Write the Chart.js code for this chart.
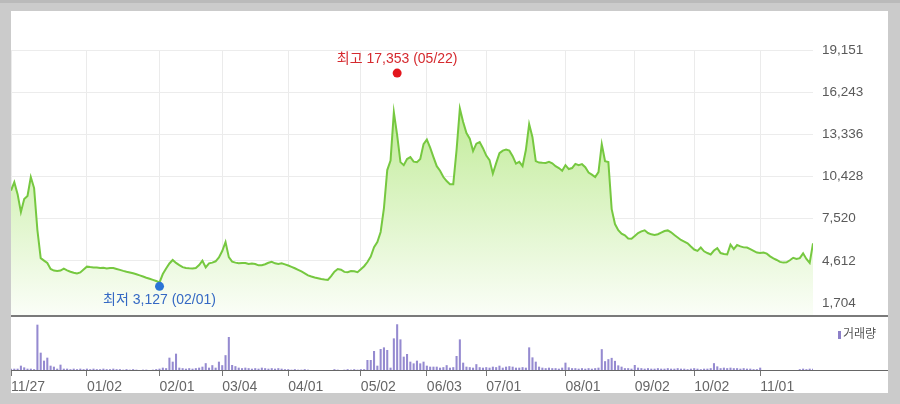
<!DOCTYPE html>
<html>
<head>
<meta charset="utf-8">
<script src="https://cdn.jsdelivr.net/npm/chart.js@4.4.1/dist/chart.umd.min.js"></script>
<style>
  html, body { margin: 0; padding: 0; width: 900px; height: 404px; overflow: hidden; background: #cbcbcb; }
  #topbar { position: absolute; left: 0; top: 0; width: 900px; height: 3px; background: #bababa; }
  #panel { position: absolute; left: 11px; top: 11px; width: 877px; height: 382px; background: #fff; }
  canvas { position: absolute; left: 0; top: 0; }
  .rule { position: absolute; left: 11px; width: 877px; }
  #legend { position: absolute; left: 838px; top: 324px; font: 12px 'Noto Sans CJK KR', sans-serif; color: #555; }
  #legend i { display: inline-block; width: 3px; height: 8px; background: #8d80c8; margin-right: 2px; vertical-align: -1px; }
</style>
</head>
<body>
<div id="topbar"></div>
<div id="panel"></div>
<canvas id="priceChart" width="900" height="404"></canvas>
<canvas id="volChart" width="900" height="404"></canvas>
<div class="rule" style="top:315px;height:2px;background:#7a7a7a"></div>
<div class="rule" style="top:370px;height:1px;background:#666"></div>
<div id="legend"><i></i>거래량</div>
<script>
// daily closes (원), one per trading day from 11/27
const priceClose = [
  9460, 10040, 9210, 7970, 8870, 9080, 10390, 9630, 6730, 4800,
  4630, 4460, 4050, 3940, 3910, 3940, 4070, 3960, 3860, 3790,
  3740, 3810, 4010, 4210, 4180, 4160, 4150, 4120, 4130, 4080,
  4120, 4110, 4050, 3990, 3920, 3860, 3810, 3750, 3690, 3610,
  3530, 3450, 3380, 3300, 3220, 3127, 3700, 4080, 4430, 4670,
  4470, 4320, 4180, 4120, 4100, 4090, 4120, 4320, 4620, 4160,
  4440, 4490, 4580, 4840, 5290, 5910, 4870, 4560, 4490, 4440,
  4470, 4460, 4390, 4430, 4390, 4300, 4310, 4380, 4480, 4550,
  4440, 4400, 4440, 4370, 4290, 4200, 4100, 3990, 3880, 3750,
  3610, 3530, 3460, 3410, 3360, 3320, 3300, 3560, 3870, 4050,
  4000, 3850, 3830, 3910, 3890, 3830, 4030, 4240, 4530, 4910,
  5560, 5910, 6600, 8250, 10870, 11520, 14860, 13280, 11420, 11210,
  11630, 11760, 11450, 11420, 11630, 12660, 12970, 12420, 11760, 11140,
  10830, 10390, 10110, 9900, 9900, 12250, 15110, 14180, 13420, 13040,
  12180, 12690, 12800, 12380, 11870, 11560, 10630, 11350, 12040, 12210,
  12280, 12210, 11830, 11320, 11440, 11140, 12250, 14040, 13140, 11490,
  11390, 11370, 11360, 11440, 11340, 11140, 11010, 10830, 11210, 10940,
  11010, 11300, 11210, 11280, 11070, 10700, 10560, 10390, 10730, 12660,
  11490, 11420, 8180, 7150, 6730, 6490, 6370, 6150, 6130, 6330,
  6530, 6640, 6720, 6530, 6440, 6400, 6450, 6560, 6670, 6710,
  6580, 6390, 6220, 6050, 5940, 5820, 5600, 5390, 5300, 5530,
  5270, 5150, 5050, 5320, 5490, 5150, 5080, 5050, 5730, 5420,
  5700, 5610, 5540, 5530, 5420, 5300, 5180, 5150, 5190, 5110,
  4920, 4780, 4670, 4540, 4490, 4510, 4650, 4820, 4740, 4800,
  5130, 4740, 4470, 5820
];

// volume, thousand shares
const volume = [
  2, 2, 2, 5, 3.3, 2, 2, 1.5, 46, 18,
  10, 13, 5, 4, 2, 6, 2, 2, 1.5, 2,
  1.5, 2, 1.5, 2, 1.5, 2, 1.5, 1.5, 2, 1.5,
  1.5, 2, 1.5, 1.5, 1, 1.5, 1, 1.5, 1, 0,
  1, 1, 0, 1, 1.5, 2, 3, 2.5, 13, 9,
  17, 3, 2.5, 2, 2.5, 2, 2.5, 3, 4, 7.5,
  3, 5.5, 3, 9, 5.5, 15.5, 33.7, 5.7, 4.5, 3,
  2.5, 3, 2.5, 2, 2.5, 2, 3, 2.5, 2, 2.5,
  2, 2.5, 2, 1.5, 1.5, 1, 1.5, 1, 1, 1.5,
  1, 0, 0, 0, 0.5, 0, 0, 0.5, 1.5, 1,
  0, 1, 1.5, 1, 1.5, 1, 1.5, 1.5, 10.7, 10.7,
  19.7, 5, 21.7, 23.3, 20.7, 3, 32.3, 46.4, 31.3, 14,
  16.7, 9, 7.3, 10, 7.3, 9, 5, 4, 4, 4,
  3, 3.5, 5.5, 3, 3.5, 14.7, 31.3, 8, 4, 3.5,
  3, 6.5, 3.5, 3, 3.5, 3, 4, 3.5, 5, 3,
  4, 4.5, 4, 3, 3, 3.5, 3, 23.3, 13.3, 9,
  4, 3, 2.5, 3, 2.5, 2.5, 2, 3, 8, 3.3,
  2.5, 2.5, 2, 2.5, 2, 2.5, 2, 2.5, 3, 21.5,
  9.5, 11.5, 12.8, 9.8, 5.3, 4, 2.5, 2.5, 2, 5.7,
  3, 2.5, 2, 2.5, 2, 2, 2.5, 2, 2, 2.5,
  2, 2, 2.5, 2, 2, 1.5, 2, 2.5, 2, 1.5,
  2, 2, 2.5, 7.5, 4.3, 2.5, 3, 2.5, 3, 2.5,
  2.5, 2, 2.5, 2, 2, 1.5, 1.5, 3, 0, 0,
  0, 0, 0, 0, 0, 0, 0, 0, 0, 1.5,
  2, 1.5, 2, 2
];

const tickDays = [0, 23, 45, 64, 84, 106, 126, 144, 168, 189, 207, 227];
const tickLabels = ['11/27', '01/02', '02/01', '03/04', '04/01', '05/02', '06/03', '07/01', '08/01', '09/02', '10/02', '11/01'];
const priceTicks = [1704, 4612, 7520, 10428, 13336, 16243, 19151];

const high = { day: 117, value: 17353, date: '05/22' };
const low = { day: 45, value: 3127, date: '02/01' };

const dayIdx = priceClose.map((_, i) => i);
const lastDay = priceClose.length - 1;
const fmt = v => v.toLocaleString('en-US');
const FONT = "'Liberation Sans', 'Noto Sans CJK KR', sans-serif";

Chart.defaults.font.family = FONT;
Chart.defaults.animation = false;

// ─── hi / lo markers ────────────────────────────────────────────────────
const hiLoPlugin = {
  id: 'hiLo',
  afterDatasetsDraw(chart) {
    const { ctx, scales: { x, y } } = chart;
    ctx.save();
    ctx.font = "14px " + FONT;
    ctx.textAlign = 'center';
    ctx.textBaseline = 'middle';

    const hx = x.getPixelForValue(high.day), hy = y.getPixelForValue(high.value) - 3;
    ctx.fillStyle = '#e3161d';
    ctx.beginPath(); ctx.arc(hx, hy, 4.5, 0, Math.PI * 2); ctx.fill();
    ctx.fillStyle = '#d52a2f';
    ctx.fillText('최고 ' + fmt(high.value) + ' (' + high.date + ')', hx, hy - 14);

    const lx = x.getPixelForValue(low.day), ly = y.getPixelForValue(low.value) + 4;
    ctx.fillStyle = '#2a74d6';
    ctx.beginPath(); ctx.arc(lx, ly, 4.5, 0, Math.PI * 2); ctx.fill();
    ctx.fillStyle = '#3569c4';
    ctx.fillText('최저 ' + fmt(low.value) + ' (' + low.date + ')', lx, ly + 14);
    ctx.restore();
  }
};

function fixTicks(values) {
  return scale => { scale.ticks = values.map(v => ({ value: v })); };
}

// ─── price chart ────────────────────────────────────────────────────────
new Chart(document.getElementById('priceChart'), {
  type: 'line',
  data: {
    labels: dayIdx,
    datasets: [{
      data: priceClose,
      borderColor: '#76c840',
      borderWidth: 2,
      pointRadius: 0,
      tension: 0,
      fill: 'start',
      backgroundColor: (c) => {
        const area = c.chart.chartArea;
        if (!area) return 'rgba(0,0,0,0)';
        const g = c.chart.ctx.createLinearGradient(0, 100, 0, area.bottom);
        g.addColorStop(0, '#bfeb95');
        g.addColorStop(1, '#fbfef8');
        return g;
      }
    }]
  },
  options: {
    responsive: false,
    layout: { padding: { left: 11, right: 12, top: 50, bottom: 88 } },
    plugins: { legend: { display: false }, tooltip: { enabled: false } },
    scales: {
      x: {
        type: 'linear', min: 0, max: lastDay, offset: false,
        afterBuildTicks: fixTicks(tickDays),
        ticks: { display: false },
        grid: { color: '#ebebeb', drawTicks: false },
        border: { display: false }
      },
      y: {
        position: 'right', min: 808, max: 19151,
        afterBuildTicks: fixTicks(priceTicks),
        afterFit: s => { s.width = 75; },
        ticks: { color: '#5a5a5a', font: { size: 13.5 }, padding: 9, callback: v => fmt(v) },
        grid: { color: '#ececec', drawTicks: false },
        border: { display: false }
      }
    }
  },
  plugins: [hiLoPlugin]
});

// ─── volume chart ───────────────────────────────────────────────────────
new Chart(document.getElementById('volChart'), {
  type: 'bar',
  data: {
    labels: dayIdx,
    datasets: [{ data: volume, backgroundColor: '#958ad0', barThickness: 1.4 }]
  },
  options: {
    responsive: false,
    layout: { padding: { left: 11, right: 87, top: 316, bottom: 0 } },
    plugins: { legend: { display: false }, tooltip: { enabled: false } },
    scales: {
      x: {
        type: 'linear', min: 0, max: lastDay, offset: false,
        afterBuildTicks: fixTicks(tickDays),
        afterFit: s => { s.height = 33; },
        ticks: {
          align: 'start', autoSkip: false, maxRotation: 0,
          color: '#666', font: { size: 14 }, padding: 3,
          callback: (v, i) => tickLabels[i]
        },
        grid: { offset: false, drawOnChartArea: false, tickLength: 5, color: '#777' },
        border: { display: false }
      },
      y: { display: false, min: 0, max: 55 }
    }
  }
});
</script>
</body>
</html>
